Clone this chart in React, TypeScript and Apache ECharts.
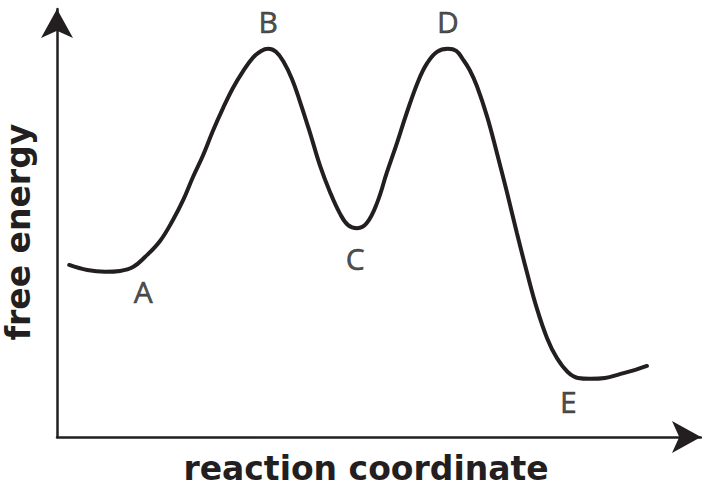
import React, { useEffect, useRef } from 'react';
import * as echarts from 'echarts';

// points along the free energy profile (arbitrary units 0-100)
const curveX = [
  1.9, 4.7, 7.5, 9.8, 11.8, 13.7, 16.0, 18.0, 19.6, 21.1, 22.7, 24.2, 25.8, 27.3, 28.9, 30.4,
  31.7, 32.8, 34.0, 35.2, 36.5, 37.7, 39.3, 40.8, 42.4, 43.9, 45.2, 46.6, 48.1, 49.7, 51.2,
  52.8, 54.3, 56.1, 57.5, 59.0, 60.7, 62.0, 63.0, 64.1, 65.2, 66.8, 68.3, 69.9, 71.4, 73.0,
  74.5, 76.1, 77.6, 79.3, 80.9, 82.8, 85.1, 87.4, 89.8, 91.6,
];
const curveY = [
  40.2, 39.0, 38.6, 38.8, 39.7, 42.1, 45.8, 50.7, 55.4, 60.7, 65.9, 71.5, 76.9, 81.5, 85.5, 88.6,
  90.2, 90.7, 90.0, 87.6, 83.6, 78.5, 71.0, 63.6, 57.2, 52.3, 49.5, 48.8, 50.0, 54.7, 61.7,
  68.7, 75.7, 83.2, 87.4, 90.0, 90.7, 90.2, 88.3, 85.7, 82.0, 74.8, 66.4, 57.0, 47.7, 38.3,
  30.1, 23.1, 18.5, 15.2, 13.8, 13.6, 13.8, 14.7, 15.7, 16.6,
];

// labelled states and the curve point each one belongs to
const stateNames = ['A', 'B', 'C', 'D', 'E'];
const stateIndex = [2, 17, 27, 36, 51];
const stateOffsets: [number, number][] = [[38, 20], [0, -27], [-2, 30], [0, -27], [-22, 23]];

const xTitle = 'reaction coordinate';
const yTitle = 'free energy';

const INK = '#231f20';
const LABEL_FONT = "'Open Sans', 'Noto Sans', sans-serif";
const TITLE_FONT = "'DejaVu Sans', 'Open Sans', sans-serif";

const EnergyProfile: React.FC = () => {
  const chartRef = useRef<HTMLDivElement>(null);

  useEffect(() => {
    document.body.style.margin = '0';
    if (!chartRef.current) return;
    const chart = echarts.init(chartRef.current, null, { renderer: 'svg' });

    const axisLine = {
      onZero: false,
      symbol: ['none', 'arrow'],
      symbolSize: [24, 29],
      lineStyle: { color: INK, width: 2.5 },
    };
    const titleStyle = { fontFamily: TITLE_FONT, fontWeight: 'bold' as const, fontSize: 33, color: INK };

    const option: any = {
      animation: false,
      backgroundColor: '#ffffff',
      grid: { left: 57, right: 1, top: 9, bottom: 53, containLabel: false, outerBoundsMode: 'none' },
      xAxis: {
        type: 'value',
        min: 0,
        max: 100,
        name: xTitle,
        nameLocation: 'middle',
        nameGap: 15,
        nameTextStyle: { ...titleStyle, padding: [0, 26, 0, 0] },
        axisLine,
        axisTick: { show: false },
        axisLabel: { show: false },
        splitLine: { show: false },
      },
      yAxis: {
        type: 'value',
        min: 0,
        max: 100,
        name: yTitle,
        nameLocation: 'middle',
        nameRotate: 90,
        nameGap: 22,
        nameTextStyle: { ...titleStyle, padding: [0, 18, 0, 0] },
        axisLine,
        axisTick: { show: false },
        axisLabel: { show: false },
        splitLine: { show: false },
      },
      series: [
        {
          type: 'line',
          smooth: 0.4,
          showSymbol: false,
          lineStyle: { color: INK, width: 4, cap: 'round' },
          data: curveX.map((x, i) => [x, curveY[i]]),
        },
        {
          type: 'scatter',
          symbolSize: 1,
          itemStyle: { color: 'transparent' },
          data: stateNames.map((name, k) => ({
            name,
            value: [curveX[stateIndex[k]], curveY[stateIndex[k]]],
            label: {
              show: true,
              position: 'inside',
              offset: stateOffsets[k],
              formatter: name,
              fontFamily: LABEL_FONT,
              fontSize: 30,
              color: INK,
              textBorderColor: INK,
              textBorderWidth: 0.6,
            },
          })),
        },
      ],
    };

    chart.setOption(option);
    return () => {
      chart.dispose();
    };
  }, []);

  return (
    <div
      ref={chartRef}
      style={{ position: 'fixed', left: 0, top: 0, width: '702px', height: '490px' }}
    />
  );
};

export default function App() {
  return <EnergyProfile />;
}
